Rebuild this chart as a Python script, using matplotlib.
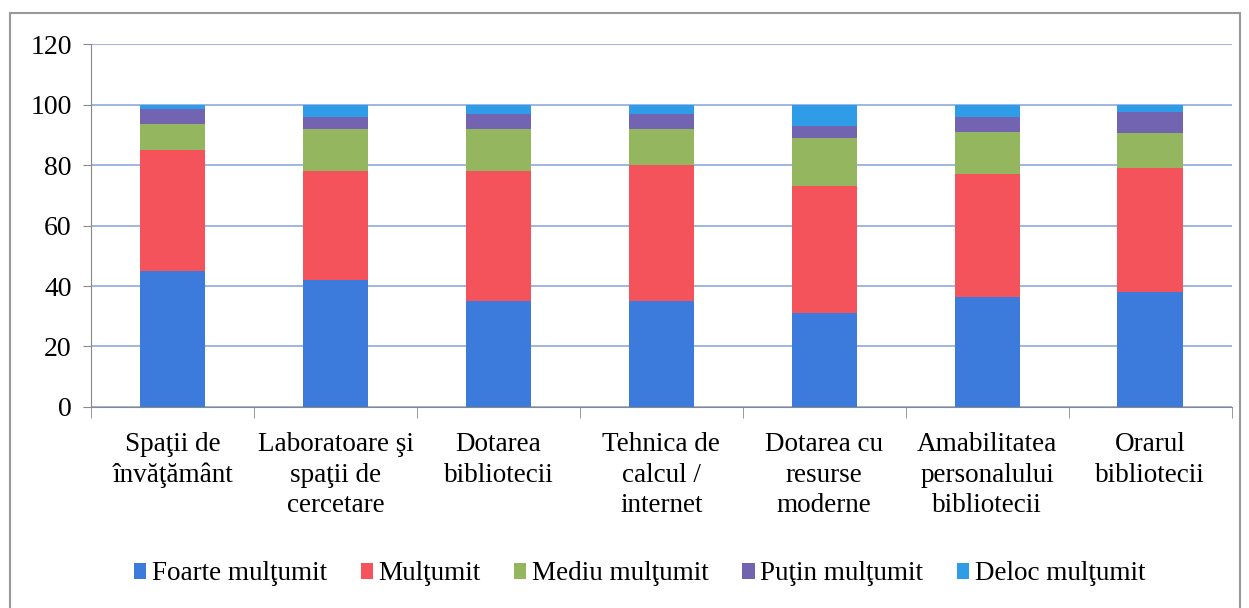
import matplotlib.pyplot as plt
import numpy as np
from matplotlib.patches import Rectangle

categories = [
    'Spaţii de\nînvăţământ',
    'Laboratoare şi\nspaţii de\ncercetare',
    'Dotarea\nbibliotecii',
    'Tehnica de\ncalcul /\ninternet',
    'Dotarea cu\nresurse\nmoderne',
    'Amabilitatea\npersonalului\nbibliotecii',
    'Orarul\nbibliotecii',
]
series_names = ['Foarte mulţumit', 'Mulţumit', 'Mediu mulţumit', 'Puţin mulţumit', 'Deloc mulţumit']
foarte = [45, 42, 35, 35, 31, 36.5, 38]
multumit = [40, 36, 43, 45, 42, 40.5, 41]
mediu = [8.5, 14, 14, 12, 16, 14, 11.5]
putin = [5, 4, 5, 5, 4, 5, 7]
deloc = [1.5, 4, 3, 3, 7, 4, 2.5]
colors = ['#3C7BDB', '#F4535C', '#93B65F', '#7364B2', '#2F9CE8']

plt.rcParams['font.family'] = ['Liberation Serif', 'DejaVu Serif']

fig = plt.figure(figsize=(12.49, 6.08), dpi=100)
ax = fig.add_axes([0.073, 0.3306, 0.913, 0.597])

x = np.arange(len(categories))
bottom = np.zeros(len(categories))
for name, vals, col in zip(series_names, [foarte, multumit, mediu, putin, deloc], colors):
    ax.bar(x, vals, width=0.4, bottom=bottom, color=col, label=name, zorder=3)
    bottom += np.array(vals)

ax.set_ylim(0, 120)
ax.set_yticks(range(0, 121, 20))
ax.set_xlim(-0.5, len(categories) - 0.5)
ax.set_xticks(x)
ax.set_xticklabels(categories, fontsize=19.5, linespacing=1.3)
ax.tick_params(axis='x', length=0, pad=18)
ax.set_xticks(np.arange(-0.5, len(categories)), minor=True)
ax.tick_params(axis='x', which='minor', length=8, color='#888888', direction='out')
ax.tick_params(axis='y', labelsize=20, length=6, color='#888888', direction='out', pad=8)
ax.grid(axis='y', color='#8FA8DC', linewidth=1.2, zorder=0)
for s in ['top', 'right']:
    ax.spines[s].set_visible(False)
ax.spines['left'].set_color('#888888')
ax.spines['bottom'].set_color('#888888')

fig.legend(loc='center', bbox_to_anchor=(0.512, 0.056), ncol=5, frameon=False,
           fontsize=19.5, handlelength=0.45, handleheight=0.5, handletextpad=0.2,
           columnspacing=1.25)

fig.patches.append(Rectangle((0.008, -0.02), 0.985, 0.999, transform=fig.transFigure,
                             fill=False, edgecolor='#999999', linewidth=1.5))

fig.savefig('out.png', dpi=100)
